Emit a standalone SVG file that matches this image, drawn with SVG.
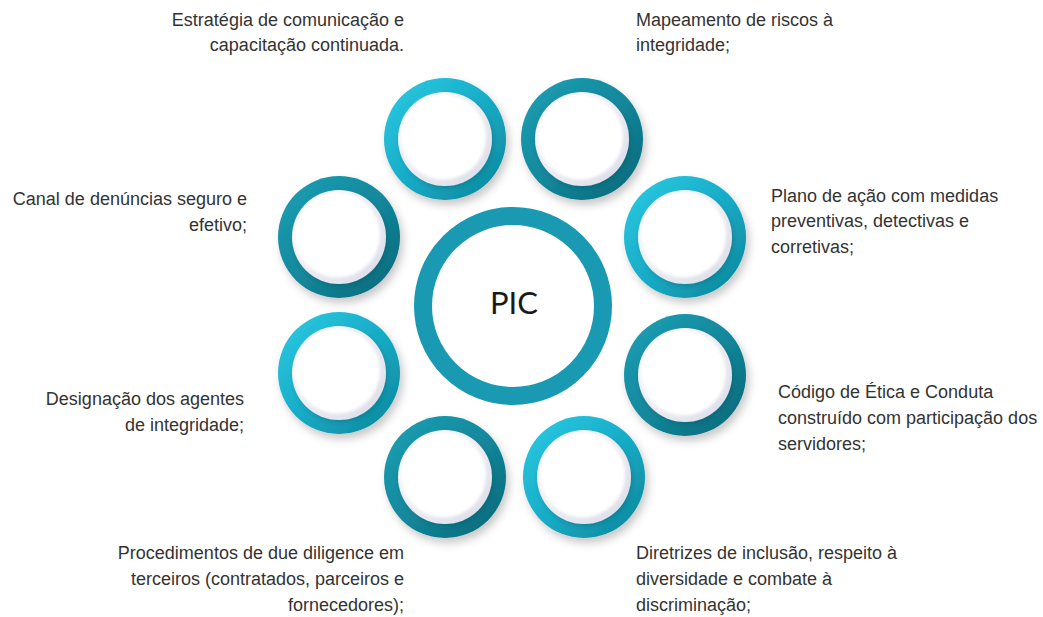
<svg xmlns="http://www.w3.org/2000/svg" width="1043" height="617" viewBox="0 0 1043 617">
  <defs>
    <linearGradient id="gLight" x1="0" y1="0" x2="1" y2="1">
      <stop offset="0" stop-color="#2ccbe4"/>
      <stop offset="0.5" stop-color="#18acc7"/>
      <stop offset="1" stop-color="#0c8498"/>
    </linearGradient>
    <linearGradient id="gDark" x1="0" y1="0" x2="1" y2="1">
      <stop offset="0" stop-color="#1ea0b5"/>
      <stop offset="0.5" stop-color="#13889c"/>
      <stop offset="1" stop-color="#0a6676"/>
    </linearGradient>
    <linearGradient id="gRim" x1="0" y1="0" x2="1" y2="1">
      <stop offset="0" stop-color="#fbfbfd"/>
      <stop offset="1" stop-color="#dcdce9"/>
    </linearGradient>
    <filter id="shadow" x="-30%" y="-30%" width="170%" height="170%">
      <feDropShadow dx="3" dy="5" stdDeviation="4" flood-color="#000" flood-opacity="0.22"/>
    </filter>
    <filter id="innerShadow" x="-30%" y="-30%" width="160%" height="160%">
      <feDropShadow dx="1.5" dy="2.5" stdDeviation="2" flood-color="#0a3a44" flood-opacity="0.22"/>
    </filter>
    <filter id="soft" x="-20%" y="-20%" width="140%" height="140%">
      <feGaussianBlur stdDeviation="1.5"/>
    </filter>
    <g id="inner">
      <circle r="47" fill="url(#gRim)" filter="url(#innerShadow)"/>
      <circle cx="-1.5" cy="-2" r="42.5" fill="#ffffff" filter="url(#soft)"/>
    </g>
  </defs>
  <style>
    .lbl { font-family: "Liberation Sans", Arial, sans-serif; font-size: 18px; fill: #333333; }
    .r { text-anchor: end; }
    .pic { font-family: Lato, "Liberation Sans", sans-serif; font-weight: 400; font-size: 31px; fill: #1a1a1a; text-anchor: middle; }
  </style>

  <g id="connectors"></g>

  <g id="center">
    <circle cx="513" cy="306" r="90" fill="#ffffff" stroke="#1a9ab2" stroke-width="18"/>
    <text class="pic" x="514" y="314">PIC</text>
  </g>

  <g id="n-estrategia">
    <g transform="translate(445,139)">
      <circle r="61" fill="url(#gLight)" filter="url(#shadow)"/>
      <use href="#inner"/>
    </g>
    <text class="lbl r" x="404" y="26">Estratégia de comunicação e</text>
    <text class="lbl r" x="404" y="51">capacitação continuada.</text>
  </g>

  <g id="n-mapeamento">
    <g transform="translate(582,139)">
      <circle r="61" fill="url(#gDark)" filter="url(#shadow)"/>
      <use href="#inner"/>
    </g>
    <text class="lbl" x="636" y="26">Mapeamento de riscos à</text>
    <text class="lbl" x="636" y="51">integridade;</text>
  </g>

  <g id="n-canal">
    <g transform="translate(339,237)">
      <circle r="61" fill="url(#gDark)" filter="url(#shadow)"/>
      <use href="#inner"/>
    </g>
    <text class="lbl r" x="247" y="205">Canal de denúncias seguro e</text>
    <text class="lbl r" x="247" y="231">efetivo;</text>
  </g>

  <g id="n-plano">
    <g transform="translate(685,237)">
      <circle r="61" fill="url(#gLight)" filter="url(#shadow)"/>
      <use href="#inner"/>
    </g>
    <text class="lbl" x="771" y="202">Plano de ação com medidas</text>
    <text class="lbl" x="771" y="227">preventivas, detectivas e</text>
    <text class="lbl" x="771" y="253">corretivas;</text>
  </g>

  <g id="n-designacao">
    <g transform="translate(339,373)">
      <circle r="61" fill="url(#gLight)" filter="url(#shadow)"/>
      <use href="#inner"/>
    </g>
    <text class="lbl r" x="244" y="405">Designação dos agentes</text>
    <text class="lbl r" x="244" y="431">de integridade;</text>
  </g>

  <g id="n-codigo">
    <g transform="translate(685,375)">
      <circle r="61" fill="url(#gDark)" filter="url(#shadow)"/>
      <use href="#inner"/>
    </g>
    <text class="lbl" x="778" y="398">Código de Ética e Conduta</text>
    <text class="lbl" x="778" y="424">construído com participação dos</text>
    <text class="lbl" x="778" y="450">servidores;</text>
  </g>

  <g id="n-procedimentos">
    <g transform="translate(445,477)">
      <circle r="61" fill="url(#gDark)" filter="url(#shadow)"/>
      <use href="#inner"/>
    </g>
    <text class="lbl r" x="404" y="559">Procedimentos de due diligence em</text>
    <text class="lbl r" x="404" y="585">terceiros (contratados, parceiros e</text>
    <text class="lbl r" x="404" y="611">fornecedores);</text>
  </g>

  <g id="n-diretrizes">
    <g transform="translate(584,477)">
      <circle r="61" fill="url(#gLight)" filter="url(#shadow)"/>
      <use href="#inner"/>
    </g>
    <text class="lbl" x="636" y="559">Diretrizes de inclusão, respeito à</text>
    <text class="lbl" x="636" y="585">diversidade e combate à</text>
    <text class="lbl" x="636" y="611">discriminação;</text>
  </g>
</svg>
